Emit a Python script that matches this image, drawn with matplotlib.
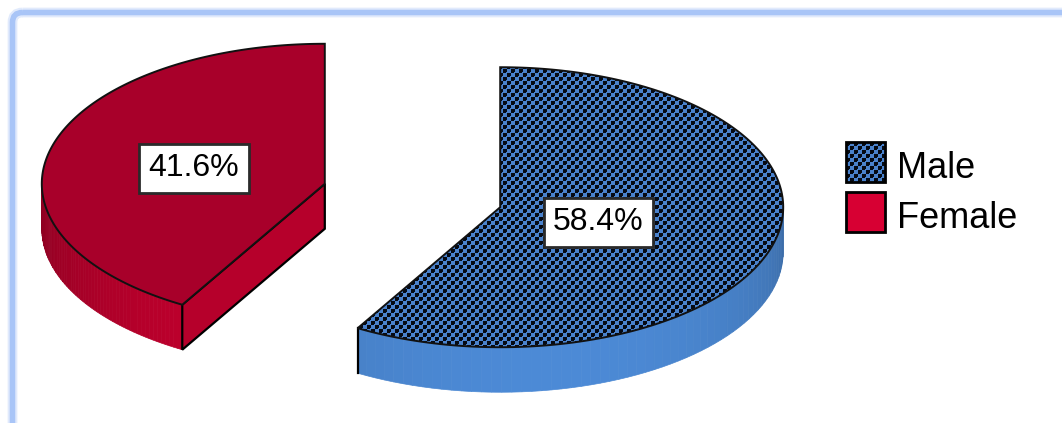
import numpy as np
import matplotlib
matplotlib.use("Agg")
import matplotlib.pyplot as plt
from matplotlib.patches import Polygon, Rectangle, FancyBboxPatch
from matplotlib.colors import to_rgb

# gender split
labels = ["Male", "Female"]
shares = [58.4, 41.6]
top_colors = ["#4a82cc", "#a8002a"]
wall_colors = ["#4c8ad6", "#c8002f"]
legend_colors = ["#4a82cc", "#d70033"]
patterned = [True, False]
label_dist = [0.36, 0.48]

# 3d pie geometry in pixels
W, H = 1062, 423
cx, cy = 412.5, 195.5
rx, ry = 283.0, 140.0
depth = 45.0
explode = 0.321
light = np.deg2rad(280)

plt.rcParams["font.family"] = ["Liberation Sans", "DejaVu Sans"]

fig = plt.figure(figsize=(W / 100, H / 100), dpi=100)
ax = fig.add_axes([0, 0, 1, 1])
ax.set_xlim(0, W)
ax.set_ylim(H, 0)
ax.axis("off")


def checker(w, h, base):
    # black checker dots over the base colour
    yy, xx = np.indices((h, w))
    img = np.ones((h, w, 3)) * np.array(to_rgb(base))
    dark = ((xx // 4 + yy // 4) % 2 == 0) & ~((xx % 4 == 3) & (yy % 4 == 3))
    img[dark] = (0.02, 0.04, 0.08)
    return img


def pt(c, t, r=1.0, z=0.0):
    return (c[0] + rx * r * np.cos(t), c[1] - ry * r * np.sin(t) + z)


def shade(col, t):
    k = 0.74 + 0.26 * np.cos(t - light)
    return tuple(min(1, v * k) for v in to_rgb(col))


# slice angles, starting at 12 o'clock and going clockwise for the first slice
fracs = np.array(shares) / sum(shares)
start = 90.0
ang = [(start - 360 * fracs[0], start), (start, start + 360 * fracs[1])]

for i, (a1, a2) in enumerate(ang):
    th1, th2 = np.deg2rad(a1), np.deg2rad(a2)
    mid = 0.5 * (th1 + th2)
    c = (cx + explode * rx * np.cos(mid), cy - explode * ry * np.sin(mid))

    # outer wall, only the part that faces the viewer
    for k in (-1, 0, 1):
        lo = max(th1, np.pi + 2 * np.pi * k)
        hi = min(th2, 2 * np.pi + 2 * np.pi * k)
        if hi <= lo:
            continue
        edges = np.linspace(lo, hi, 60)
        for e0, e1 in zip(edges[:-1], edges[1:]):
            ts = np.linspace(e0, e1, 4)
            top = [pt(c, t) for t in ts]
            bot = [pt(c, t, z=depth) for t in ts[::-1]]
            col = shade(wall_colors[i], 0.5 * (e0 + e1))
            ax.add_patch(Polygon(top + bot, closed=True, facecolor=col,
                                 edgecolor=col, lw=0.5, zorder=2))

    # radial walls
    for phi, sgn in ((th1, -1), (th2, 1)):
        normal = phi + sgn * np.pi / 2
        if np.sin(normal) < -1e-6:
            quad = [pt(c, phi, 0), pt(c, phi), pt(c, phi, z=depth), pt(c, phi, 0, depth)]
            ax.add_patch(Polygon(quad, closed=True, facecolor=shade(wall_colors[i], normal),
                                 edgecolor="black", lw=1.6, zorder=3))
        elif abs(np.cos(phi)) > 1e-3:
            ax.plot([pt(c, phi)[0]] * 2, [pt(c, phi)[1], pt(c, phi)[1] + depth],
                    color="black", lw=1.6, zorder=3)

    # top face
    ts = np.linspace(th1, th2, 200)
    verts = [pt(c, 0, 0)] + [pt(c, t) for t in ts]
    face = Polygon(verts, closed=True, facecolor=top_colors[i], edgecolor="none", zorder=4)
    ax.add_patch(face)
    if patterned[i]:
        xs = [v[0] for v in verts]
        ys = [v[1] for v in verts]
        x0, x1 = int(min(xs)) - 2, int(max(xs)) + 2
        y0, y1 = int(min(ys)) - 2, int(max(ys)) + 2
        im = ax.imshow(checker(x1 - x0, y1 - y0, top_colors[i]),
                       extent=(x0, x1, y1, y0), interpolation="nearest", zorder=5)
        im.set_clip_path(face)
    ax.add_patch(Polygon(verts, closed=True, facecolor="none", edgecolor="#111111",
                         lw=1.4, zorder=6))

    # percentage label
    lx, ly = pt(c, mid, label_dist[i])
    ax.text(lx, ly + 2, f"{shares[i]:.1f}%", fontsize=23, ha="center", va="center", zorder=8,
            bbox=dict(boxstyle="square,pad=0.3", facecolor="white",
                      edgecolor="#2a2a2a", lw=2))

# legend
for i, name in enumerate(labels):
    y = 142 + 50 * i
    sw = Rectangle((846, y), 39, 40, facecolor=legend_colors[i], edgecolor="none", zorder=5)
    ax.add_patch(sw)
    if patterned[i]:
        im = ax.imshow(checker(39, 40, legend_colors[i]), extent=(846, 885, y + 40, y),
                       interpolation="nearest", zorder=6)
        im.set_clip_path(sw)
    ax.add_patch(Rectangle((846, y), 39, 40, facecolor="none", edgecolor="black",
                           lw=2, zorder=7))
    ax.text(897, y + 27, name, fontsize=26, ha="left", va="center", zorder=7)

# soft blue frame
for lw, a in ((7, 0.35), (4, 1.0)):
    ax.add_patch(FancyBboxPatch((12.5, 12.5), 1100, 500,
                                boxstyle="round,pad=0,rounding_size=10",
                                facecolor="none", edgecolor="#a9c5f7", lw=lw, alpha=a,
                                zorder=9))

ax.set_xlim(0, W)
ax.set_ylim(H, 0)
fig.savefig("out.png", dpi=100)
